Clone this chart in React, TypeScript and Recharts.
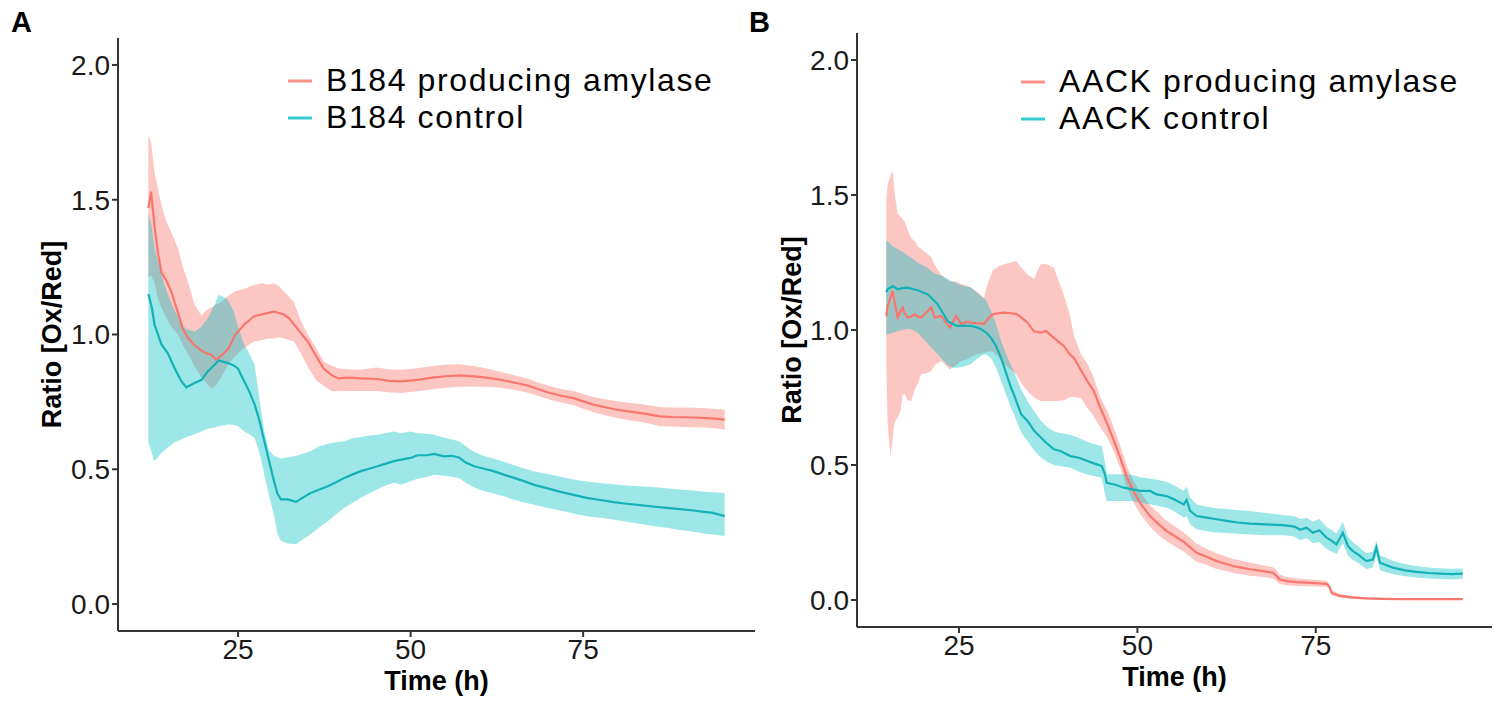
import React from 'react';
import { ComposedChart, Area, Line, XAxis, YAxis, Legend, Label } from 'recharts';

const RED = '#F8766D';
const CYAN = '#00BFC4';
const FONT = '"Liberation Sans", Arial, Helvetica, sans-serif';

const xTicks = [25, 50, 75];
const yTicks = [0, 0.5, 1, 1.5, 2];
const legendA = ['B184 producing amylase', 'B184 control'];
const legendB = ['AACK producing amylase', 'AACK control'];

// ---- Panel A: B184 producing amylase ----
const tA_amy = [
  12.0, 12.4, 12.9, 13.4, 13.9, 14.6, 15.3, 16.3, 17.0, 17.8,
  18.7, 19.7, 20.4, 21.1, 21.8, 22.5, 23.6, 24.6, 25.9, 27.3,
  28.5, 29.4, 30.2, 30.9, 31.6, 32.4, 33.1, 34.1, 35.1, 36.3,
  37.4, 38.5, 39.5, 41.0, 42.8, 45.0, 47.0, 48.6, 51.0, 53.4,
  55.5, 57.2, 59.6, 61.5, 63.0, 65.0, 66.9, 68.5, 70.2, 72.0,
  73.6, 75.0, 76.5, 78.2, 79.9, 81.5, 83.2, 84.7, 86.1, 87.8,
  89.5, 91.2, 92.9, 94.2, 95.5,
];
const meanA_amy = [
  1.47, 1.53, 1.40, 1.30, 1.23, 1.20, 1.16, 1.08, 1.02, 0.985,
  0.96, 0.94, 0.93, 0.926, 0.907, 0.92, 0.948, 1.00, 1.037, 1.067,
  1.075, 1.08, 1.085, 1.08, 1.074, 1.06, 1.037, 1.005, 0.974, 0.92,
  0.874, 0.85, 0.837, 0.84, 0.837, 0.835, 0.828, 0.826, 0.832, 0.841,
  0.846, 0.848, 0.844, 0.838, 0.832, 0.822, 0.811, 0.797, 0.783, 0.772,
  0.764, 0.752, 0.740, 0.730, 0.721, 0.715, 0.709, 0.703, 0.696, 0.694,
  0.693, 0.692, 0.690, 0.688, 0.684,
];
const lowA_amy = [
  1.21, 1.22, 1.19, 1.13, 1.10, 1.06, 1.03, 1.00, 0.96, 0.925,
  0.88, 0.84, 0.82, 0.80, 0.81, 0.84, 0.89, 0.92, 0.95, 0.974,
  0.98, 0.985, 0.986, 0.99, 0.986, 0.98, 0.974, 0.93, 0.88, 0.83,
  0.81, 0.79, 0.789, 0.79, 0.79, 0.79, 0.785, 0.783, 0.789, 0.798,
  0.803, 0.806, 0.807, 0.805, 0.802, 0.795, 0.785, 0.772, 0.758, 0.747,
  0.738, 0.725, 0.712, 0.70, 0.69, 0.683, 0.676, 0.669, 0.661, 0.659,
  0.657, 0.656, 0.654, 0.652, 0.647,
];
const highA_amy = [
  1.74, 1.71, 1.60, 1.54, 1.48, 1.42, 1.38, 1.32, 1.25, 1.19,
  1.11, 1.07, 1.09, 1.10, 1.11, 1.12, 1.145, 1.16, 1.17, 1.184,
  1.19, 1.185, 1.19, 1.18, 1.16, 1.14, 1.12, 1.05, 1.00, 0.95,
  0.90, 0.885, 0.875, 0.87, 0.869, 0.878, 0.87, 0.869, 0.875, 0.884,
  0.889, 0.89, 0.881, 0.871, 0.862, 0.849, 0.837, 0.822, 0.808, 0.797,
  0.79, 0.779, 0.768, 0.76, 0.752, 0.747, 0.742, 0.737, 0.731, 0.729,
  0.729, 0.728, 0.726, 0.724, 0.721,
];

// ---- Panel A: B184 control ----
const tA_ctl = [
  12.0, 12.5, 12.9, 13.9, 14.8, 15.8, 16.8, 17.5, 18.7, 19.7,
  20.6, 21.6, 22.2, 23.5, 24.3, 25.0, 25.9, 26.6, 27.4, 28.1,
  28.8, 29.5, 30.2, 30.7, 31.2, 32.2, 33.4, 34.4, 35.5, 36.8,
  38.0, 39.2, 40.4, 41.6, 42.8, 44.0, 45.2, 46.4, 47.6, 48.6,
  50.0, 51.0, 52.4, 53.4, 54.8, 56.0, 57.0, 58.0, 59.2, 60.5,
  62.0, 63.5, 65.0, 66.5, 67.8, 69.7, 71.7, 73.6, 75.5, 77.5,
  79.4, 81.3, 83.2, 85.1, 87.1, 89.0, 91.0, 92.5, 93.8, 95.5,
];
const meanA_ctl = [
  1.15, 1.10, 1.036, 0.963, 0.931, 0.875, 0.826, 0.804, 0.82, 0.832,
  0.863, 0.888, 0.904, 0.894, 0.886, 0.873, 0.826, 0.79, 0.74, 0.68,
  0.604, 0.53, 0.456, 0.41, 0.388, 0.388, 0.379, 0.395, 0.412, 0.425,
  0.437, 0.452, 0.468, 0.481, 0.493, 0.502, 0.511, 0.521, 0.530, 0.536,
  0.542, 0.552, 0.552, 0.557, 0.548, 0.550, 0.544, 0.525, 0.511, 0.503,
  0.493, 0.480, 0.468, 0.455, 0.443, 0.43, 0.416, 0.405, 0.394, 0.386,
  0.378, 0.372, 0.367, 0.362, 0.357, 0.352, 0.347, 0.342, 0.338, 0.326,
];
const lowA_ctl = [
  0.60, 0.56, 0.53, 0.56, 0.58, 0.60, 0.61, 0.62, 0.63, 0.64,
  0.65, 0.655, 0.66, 0.666, 0.665, 0.66, 0.64, 0.63, 0.616, 0.56,
  0.48, 0.40, 0.33, 0.26, 0.235, 0.225, 0.222, 0.24, 0.259, 0.285,
  0.307, 0.333, 0.357, 0.376, 0.394, 0.41, 0.426, 0.44, 0.45, 0.443,
  0.456, 0.465, 0.472, 0.48, 0.476, 0.472, 0.468, 0.45, 0.432, 0.42,
  0.41, 0.40, 0.387, 0.376, 0.369, 0.357, 0.347, 0.336, 0.326, 0.32,
  0.314, 0.305, 0.298, 0.29, 0.283, 0.275, 0.268, 0.262, 0.258, 0.252,
];
const highA_ctl = [
  1.45, 1.40, 1.32, 1.22, 1.15, 1.09, 1.04, 1.02, 1.01, 1.03,
  1.06, 1.11, 1.148, 1.13, 1.09, 1.03, 0.962, 0.93, 0.888, 0.76,
  0.64, 0.57, 0.55, 0.545, 0.54, 0.545, 0.55, 0.558, 0.567, 0.585,
  0.595, 0.60, 0.604, 0.615, 0.62, 0.625, 0.628, 0.635, 0.64, 0.634,
  0.64, 0.634, 0.632, 0.628, 0.618, 0.61, 0.604, 0.585, 0.565, 0.55,
  0.54, 0.528, 0.515, 0.503, 0.493, 0.483, 0.472, 0.462, 0.455, 0.449,
  0.444, 0.44, 0.437, 0.434, 0.43, 0.425, 0.421, 0.417, 0.415, 0.412,
];

// ---- Panel B: AACK producing amylase ----
const tB_amy = [
  14.8, 15.0, 15.4, 15.7, 16.0, 16.4, 16.8, 17.1, 17.4, 17.8,
  18.3, 18.8, 19.2, 19.7, 20.4, 21.1, 21.6, 22.5, 23.1, 23.7,
  24.6, 25.3, 26.0, 26.7, 27.6, 28.5, 29.0, 29.7, 30.5, 31.3,
  32.2, 33.0, 33.8, 34.6, 35.5, 36.4, 37.2, 38.3, 39.0, 39.7,
  40.5, 41.1, 42.1, 43.0, 43.9, 44.8, 45.8, 46.7, 47.6, 48.6,
  49.5, 50.5, 51.8, 53.0, 54.1, 55.3, 56.5, 57.4, 58.3, 59.7,
  61.1, 62.3, 63.4, 64.6, 65.8, 67.4, 69.0, 69.5, 69.9, 70.9,
  72.3, 73.7, 75.1, 76.5, 76.9, 77.2, 78.4, 80.0, 82.1, 84.5,
  86.7, 89.0, 91.4, 93.5, 95.6,
];
const meanB_amy = [
  1.05, 1.089, 1.12, 1.144, 1.10, 1.046, 1.07, 1.083, 1.06, 1.046,
  1.05, 1.058, 1.05, 1.046, 1.064, 1.083, 1.046, 1.052, 1.03, 1.009,
  1.052, 1.021, 1.03, 1.027, 1.025, 1.023, 1.04, 1.058, 1.062, 1.064,
  1.062, 1.06, 1.045, 1.027, 0.995, 0.99, 0.996, 0.971, 0.955, 0.941,
  0.91, 0.897, 0.85, 0.81, 0.774, 0.712, 0.651, 0.59, 0.527, 0.45,
  0.40, 0.355, 0.31, 0.28, 0.255, 0.235, 0.215, 0.195, 0.175, 0.16,
  0.144, 0.135, 0.126, 0.12, 0.114, 0.108, 0.101, 0.09, 0.077, 0.07,
  0.066, 0.064, 0.062, 0.060, 0.05, 0.027, 0.015, 0.01, 0.006, 0.004,
  0.003, 0.003, 0.003, 0.003, 0.003,
];
const lowB_amy = [
  0.88, 0.651, 0.53, 0.60, 0.66, 0.675, 0.70, 0.76, 0.762, 0.74,
  0.737, 0.78, 0.80, 0.836, 0.84, 0.848, 0.87, 0.885, 0.87, 0.854,
  0.87, 0.885, 0.89, 0.90, 0.91, 0.915, 0.92, 0.92, 0.90, 0.873,
  0.855, 0.836, 0.80, 0.774, 0.75, 0.737, 0.737, 0.737, 0.737, 0.74,
  0.75, 0.752, 0.748, 0.71, 0.68, 0.64, 0.60, 0.55, 0.49, 0.41,
  0.36, 0.315, 0.27, 0.24, 0.218, 0.198, 0.18, 0.16, 0.142, 0.13,
  0.115, 0.108, 0.10, 0.095, 0.09, 0.086, 0.08, 0.07, 0.06, 0.055,
  0.052, 0.051, 0.05, 0.049, 0.04, 0.018, 0.008, 0.005, 0.002, 0.001,
  0.001, 0.001, 0.001, 0.001, 0.001,
];
const highB_amy = [
  1.48, 1.54, 1.57, 1.59, 1.50, 1.43, 1.42, 1.41, 1.40, 1.37,
  1.34, 1.33, 1.31, 1.30, 1.285, 1.27, 1.24, 1.206, 1.19, 1.18,
  1.18, 1.17, 1.165, 1.157, 1.14, 1.12, 1.17, 1.219, 1.235, 1.243,
  1.25, 1.256, 1.23, 1.206, 1.19, 1.243, 1.245, 1.23, 1.18, 1.13,
  1.06, 0.98, 0.91, 0.875, 0.823, 0.75, 0.70, 0.638, 0.57, 0.49,
  0.44, 0.395, 0.35, 0.32, 0.293, 0.272, 0.25, 0.23, 0.208, 0.19,
  0.173, 0.162, 0.152, 0.145, 0.138, 0.13, 0.122, 0.11, 0.094, 0.085,
  0.08, 0.077, 0.074, 0.071, 0.06, 0.036, 0.022, 0.015, 0.01, 0.007,
  0.005, 0.005, 0.005, 0.005, 0.005,
];

// ---- Panel B: AACK control ----
const tB_ctl = [
  14.8, 15.0, 15.7, 16.4, 17.1, 17.8, 18.5, 19.2, 19.9, 20.6,
  21.3, 22.0, 22.7, 23.4, 24.1, 24.8, 25.7, 26.7, 27.4, 28.1,
  28.8, 29.5, 30.2, 30.9, 31.6, 32.3, 32.7, 33.7, 34.6, 35.5,
  36.5, 37.4, 38.3, 39.2, 40.6, 41.8, 43.0, 44.0, 45.0, 45.4,
  45.7, 46.8, 48.1, 49.3, 50.4, 51.8, 52.7, 54.1, 55.1, 56.5,
  56.9, 57.4, 58.3, 59.7, 61.1, 62.5, 64.0, 65.8, 68.0, 70.4,
  72.0, 72.8, 73.7, 74.6, 75.5, 76.5, 77.2, 77.9, 78.8, 79.5,
  80.2, 80.9, 82.1, 83.0, 83.5, 84.0, 85.0, 85.8, 87.5, 89.1,
  90.8, 92.4, 94.0, 95.6,
];
const meanB_ctl = [
  1.14, 1.151, 1.163, 1.151, 1.155, 1.157, 1.152, 1.147, 1.14, 1.132,
  1.115, 1.095, 1.065, 1.033, 1.022, 1.015, 1.015, 1.015, 1.01, 1.003,
  0.99, 0.971, 0.94, 0.897, 0.84, 0.786, 0.76, 0.688, 0.663, 0.628,
  0.601, 0.578, 0.558, 0.552, 0.533, 0.527, 0.515, 0.505, 0.496, 0.47,
  0.434, 0.428, 0.416, 0.41, 0.404, 0.404, 0.391, 0.385, 0.373, 0.354,
  0.37, 0.33, 0.311, 0.305, 0.299, 0.293, 0.287, 0.283, 0.28, 0.277,
  0.272, 0.26, 0.268, 0.249, 0.258, 0.231, 0.22, 0.206, 0.249, 0.20,
  0.181, 0.169, 0.144, 0.15, 0.194, 0.138, 0.128, 0.12, 0.11, 0.104,
  0.10, 0.098, 0.096, 0.098,
];
const lowB_ctl = [
  0.98, 0.984, 0.99, 0.995, 1.0, 1.005, 1.0, 0.99, 0.97, 0.95,
  0.93, 0.91, 0.89, 0.87, 0.86, 0.86, 0.865, 0.874, 0.89, 0.905,
  0.91, 0.895, 0.86, 0.81, 0.76, 0.71, 0.688, 0.62, 0.589, 0.555,
  0.527, 0.51, 0.50, 0.495, 0.49, 0.475, 0.465, 0.458, 0.453, 0.40,
  0.367, 0.367, 0.367, 0.367, 0.36, 0.355, 0.35, 0.342, 0.33, 0.305,
  0.31, 0.28, 0.262, 0.255, 0.25, 0.248, 0.245, 0.243, 0.24, 0.24,
  0.235, 0.22, 0.23, 0.21, 0.215, 0.19, 0.18, 0.17, 0.21, 0.165,
  0.148, 0.138, 0.115, 0.12, 0.165, 0.11, 0.102, 0.096, 0.088, 0.083,
  0.08, 0.078, 0.076, 0.078,
];
const highB_ctl = [
  1.33, 1.33, 1.31, 1.30, 1.29, 1.275, 1.265, 1.25, 1.24, 1.231,
  1.215, 1.205, 1.20, 1.19, 1.18, 1.17, 1.163, 1.157, 1.14, 1.125,
  1.11, 1.07, 1.02, 0.96, 0.91, 0.87, 0.845, 0.78, 0.737, 0.70,
  0.663, 0.64, 0.625, 0.618, 0.612, 0.60, 0.585, 0.577, 0.57, 0.52,
  0.466, 0.466, 0.466, 0.463, 0.455, 0.45, 0.445, 0.438, 0.425, 0.405,
  0.42, 0.38, 0.354, 0.345, 0.34, 0.337, 0.333, 0.33, 0.322, 0.315,
  0.31, 0.30, 0.305, 0.29, 0.30, 0.27, 0.26, 0.245, 0.29, 0.235,
  0.215, 0.20, 0.173, 0.18, 0.22, 0.165, 0.155, 0.145, 0.133, 0.126,
  0.12, 0.118, 0.116, 0.117,
];

type Row = { t: number; mean: number; range: [number, number] };
function buildRows(t: number[], m: number[], lo: number[], hi: number[]): Row[] {
  return t.map((tt, i) => ({ t: tt, mean: m[i], range: [lo[i], hi[i]] as [number, number] }));
}

const dataA_amy = buildRows(tA_amy, meanA_amy, lowA_amy, highA_amy);
const dataA_ctl = buildRows(tA_ctl, meanA_ctl, lowA_ctl, highA_ctl);
const dataB_amy = buildRows(tB_amy, meanB_amy, lowB_amy, highB_amy);
const dataB_ctl = buildRows(tB_ctl, meanB_ctl, lowB_ctl, highB_ctl);

const tickStyle = { fontSize: 28, fill: '#1a1a1a', fontFamily: FONT };
const axisLine = { stroke: '#333333', strokeWidth: 2 };

type PanelProps = {
  left: number;
  width: number;
  margin: { top: number; right: number; bottom: number; left: number };
  xHeight: number;
  xDomain: [number, number];
  amy: Row[];
  ctl: Row[];
  labels: string[];
  legendPos: { left: number; top: number };
  yTitleDx: number;
  xTitleDy: number;
};

function LegendBox({ labels }: { labels: string[] }) {
  const colors = [RED, CYAN];
  return (
    <div style={{ fontFamily: FONT }}>
      {labels.map((l, i) => (
        <div key={l} style={{ display: 'flex', alignItems: 'center', height: 37 }}>
          <svg width={24} height={4} style={{ marginRight: 14, display: 'block' }}>
            <line x1={0} y1={2} x2={24} y2={2} stroke={colors[i]} strokeOpacity={0.8} strokeWidth={3} />
          </svg>
          <span style={{ fontSize: 32, lineHeight: '37px', letterSpacing: 1.6, color: '#000', whiteSpace: 'nowrap' }}>{l}</span>
        </div>
      ))}
    </div>
  );
}

function Panel(p: PanelProps) {
  return (
    <div style={{ position: 'absolute', left: p.left, top: 0 }}>
      <ComposedChart width={p.width} height={702} margin={p.margin}>
        <XAxis
          type="number"
          dataKey="t"
          domain={p.xDomain}
          ticks={xTicks}
          allowDataOverflow
          axisLine={axisLine}
          tickLine={{ stroke: '#333333', strokeWidth: 2 }}
          tickSize={6}
          tick={tickStyle}
          height={p.xHeight}
        >
          <Label
            content={(props: any) => {
              const vb = props.viewBox || {};
              const x = vb.x + vb.width / 2;
              const y = vb.y + p.xTitleDy;
              return (
                <text x={x} y={y} textAnchor="middle" fontSize={27} fontWeight="bold" fill="#000" fontFamily={FONT}>
                  Time (h)
                </text>
              );
            }}
          />
        </XAxis>
        <YAxis
          type="number"
          domain={[-0.1, 2.1]}
          ticks={yTicks}
          allowDataOverflow
          tickFormatter={(v: number) => v.toFixed(1)}
          axisLine={axisLine}
          tickLine={{ stroke: '#333333', strokeWidth: 2 }}
          tickSize={6}
          tick={tickStyle}
          width={100}
        >
          <Label
            content={(props: any) => {
              const vb = props.viewBox || {};
              const x = vb.x + p.yTitleDx;
              const y = vb.y + vb.height / 2;
              return (
                <text
                  x={x}
                  y={y}
                  transform={`rotate(-90 ${x} ${y})`}
                  textAnchor="middle"
                  dominantBaseline="central"
                  fontSize={27}
                  fontWeight="bold"
                  fill="#000"
                  fontFamily={FONT}
                >
                  Ratio [Ox/Red]
                </text>
              );
            }}
          />
        </YAxis>
        <Legend
          layout="vertical"
          align="center"
          verticalAlign="middle"
          wrapperStyle={{ left: p.legendPos.left, top: p.legendPos.top, width: 'auto' }}
          content={() => <LegendBox labels={p.labels} />}
        />
        <Area
          data={p.amy}
          dataKey="range"
          type="linear"
          stroke="none"
          fill={RED}
          fillOpacity={0.42}
          isAnimationActive={false}
          name={p.labels[0] + ' error'}
          legendType="none"
        />
        <Line
          data={p.amy}
          dataKey="mean"
          type="linear"
          stroke={RED}
          strokeWidth={2.2}
          dot={false}
          isAnimationActive={false}
          name={p.labels[0]}
        />
        <Area
          data={p.ctl}
          dataKey="range"
          type="linear"
          stroke="none"
          fill={CYAN}
          fillOpacity={0.38}
          isAnimationActive={false}
          name={p.labels[1] + ' error'}
          legendType="none"
        />
        <Line
          data={p.ctl}
          dataKey="mean"
          type="linear"
          stroke="#12B2B6"
          strokeWidth={2.2}
          dot={false}
          isAnimationActive={false}
          name={p.labels[1]}
        />
      </ComposedChart>
    </div>
  );
}

export default function App() {
  return (
    <div style={{ position: 'relative', width: 1505, height: 702, background: '#fff', overflow: 'hidden', fontFamily: FONT }}>
      <style>{'body{margin:0;background:#fff}'}</style>
      <Panel
        left={0}
        width={770}
        margin={{ top: 38, right: 15, bottom: 11, left: 18 }}
        xHeight={60}
        xDomain={[7.6, 99.9]}
        amy={dataA_amy}
        ctl={dataA_ctl}
        labels={legendA}
        legendPos={{ left: 288, top: 62 }}
        yTitleDx={34}
        xTitleDy={59}
      />
      <Panel
        left={740}
        width={765}
        margin={{ top: 33, right: 13, bottom: 14, left: 17 }}
        xHeight={61}
        xDomain={[10.7, 99.7]}
        amy={dataB_amy}
        ctl={dataB_ctl}
        labels={legendB}
        legendPos={{ left: 281, top: 63 }}
        yTitleDx={35}
        xTitleDy={59}
      />
      <div style={{ position: 'absolute', left: 11, top: 8, fontSize: 29, lineHeight: '29px', fontWeight: 'bold', color: '#000' }}>A</div>
      <div style={{ position: 'absolute', left: 749, top: 8, fontSize: 29, lineHeight: '29px', fontWeight: 'bold', color: '#000' }}>B</div>
    </div>
  );
}
